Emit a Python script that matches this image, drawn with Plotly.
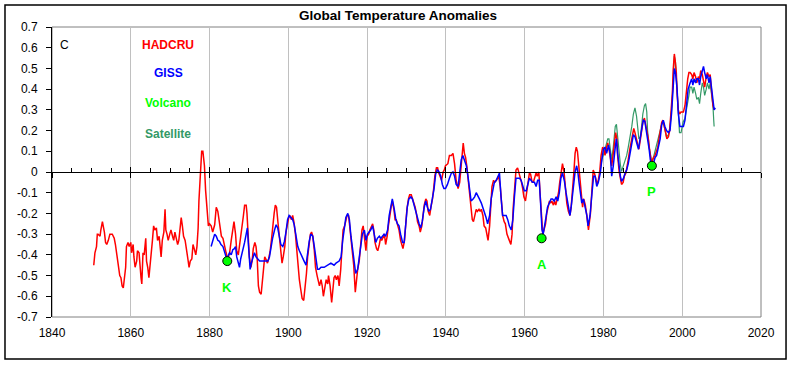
import plotly.graph_objects as go

# ---------------- data ----------------
hadcru = [
    (1850.6,-0.45),(1850.9,-0.39),(1851.3,-0.36),(1851.5,-0.30),(1851.7,-0.30),(1852.2,-0.31),(1852.4,-0.28),
    (1852.8,-0.24),(1853.0,-0.26),(1853.3,-0.29),(1853.6,-0.34),(1853.9,-0.35),(1854.3,-0.33),(1854.7,-0.30),
    (1855.3,-0.30),(1855.8,-0.32),(1856.1,-0.35),(1856.5,-0.41),(1856.8,-0.44),(1857.2,-0.50),(1857.5,-0.51),
    (1857.8,-0.55),(1858.1,-0.56),(1858.3,-0.53),(1858.7,-0.46),(1858.9,-0.36),(1859.3,-0.34),(1859.6,-0.36),
    (1860.0,-0.34),(1860.2,-0.39),(1860.6,-0.35),(1860.8,-0.41),(1861.1,-0.46),(1861.5,-0.43),(1861.7,-0.38),
    (1862.1,-0.39),(1862.4,-0.48),(1862.6,-0.51),(1862.8,-0.54),(1863.1,-0.39),(1863.4,-0.40),(1863.8,-0.32),
    (1864.0,-0.43),(1864.3,-0.46),(1864.6,-0.51),(1864.9,-0.46),(1865.1,-0.42),(1865.5,-0.33),(1865.8,-0.26),
    (1866.1,-0.28),(1866.5,-0.27),(1866.8,-0.33),(1867.2,-0.31),(1867.4,-0.35),(1867.7,-0.41),(1868.0,-0.33),
    (1868.4,-0.29),(1868.7,-0.18),(1868.9,-0.28),(1869.2,-0.30),(1869.5,-0.33),(1869.9,-0.30),(1870.2,-0.28),
    (1870.6,-0.31),(1870.9,-0.33),(1871.2,-0.29),(1871.6,-0.33),(1871.9,-0.35),(1872.2,-0.33),(1872.8,-0.22),
    (1873.1,-0.26),(1873.4,-0.31),(1873.8,-0.33),(1874.1,-0.38),(1874.5,-0.42),(1874.8,-0.46),(1875.1,-0.43),
    (1875.5,-0.42),(1875.8,-0.35),(1876.1,-0.37),(1876.5,-0.40),(1876.8,-0.36),(1877.1,-0.27),(1877.3,-0.14),
    (1877.7,-0.01),(1878.0,0.10),(1878.3,0.10),(1878.7,0.03),(1879.0,-0.09),(1879.4,-0.21),(1879.7,-0.26),
    (1880.0,-0.25),(1880.4,-0.26),(1880.8,-0.29),(1881.3,-0.255),(1881.7,-0.17),(1882.1,-0.19),(1882.4,-0.23),
    (1882.7,-0.27),(1883.0,-0.31),(1883.4,-0.32),(1883.8,-0.36),(1884.2,-0.39),(1884.6,-0.42),(1885.1,-0.39),
    (1885.5,-0.33),(1885.9,-0.26),(1886.2,-0.24),(1886.6,-0.30),(1886.9,-0.38),(1887.3,-0.40),(1887.6,-0.36),
    (1887.9,-0.31),(1888.3,-0.25),(1888.6,-0.21),(1888.9,-0.16),(1889.3,-0.16),(1889.5,-0.20),(1889.8,-0.31),
    (1890.1,-0.41),(1890.5,-0.46),(1890.8,-0.43),(1891.1,-0.37),(1891.5,-0.34),(1891.8,-0.36),(1892.1,-0.42),
    (1892.4,-0.55),(1892.7,-0.58),(1893.1,-0.59),(1893.4,-0.54),(1893.7,-0.47),(1894.0,-0.41),(1894.3,-0.42),
    (1894.7,-0.44),(1895.0,-0.42),(1895.4,-0.38),(1895.7,-0.33),(1896.0,-0.26),(1896.4,-0.20),(1896.7,-0.16),
    (1897.0,-0.17),(1897.4,-0.25),(1897.7,-0.32),(1898.0,-0.39),(1898.4,-0.44),(1898.7,-0.41),(1899.1,-0.36),
    (1899.4,-0.29),(1899.7,-0.25),(1900.1,-0.22),(1900.4,-0.21),(1900.8,-0.23),(1901.1,-0.21),(1901.4,-0.24),
    (1901.8,-0.30),(1902.1,-0.38),(1902.4,-0.46),(1902.8,-0.52),(1903.1,-0.56),(1903.5,-0.61),(1903.9,-0.62),
    (1904.2,-0.57),(1904.6,-0.49),(1904.9,-0.41),(1905.2,-0.36),(1905.6,-0.30),(1905.9,-0.29),(1906.2,-0.31),
    (1906.6,-0.38),(1906.9,-0.46),(1907.3,-0.50),(1907.6,-0.52),(1907.9,-0.55),(1908.3,-0.52),(1908.6,-0.55),
    (1908.9,-0.60),(1909.3,-0.56),(1909.6,-0.52),(1910.0,-0.54),(1910.2,-0.50),(1910.6,-0.55),(1911.0,-0.63),
    (1911.2,-0.59),(1911.6,-0.51),(1911.9,-0.50),(1912.2,-0.52),(1912.6,-0.50),(1912.9,-0.55),(1913.3,-0.47),
    (1913.6,-0.36),(1913.9,-0.28),(1914.3,-0.26),(1914.6,-0.23),(1914.9,-0.21),(1915.3,-0.21),(1915.6,-0.27),
    (1916.0,-0.35),(1916.3,-0.41),(1916.6,-0.45),(1917.0,-0.58),(1917.3,-0.52),(1917.6,-0.47),(1918.0,-0.43),
    (1918.3,-0.36),(1918.7,-0.28),(1919.0,-0.26),(1919.3,-0.33),(1919.7,-0.38),(1920.0,-0.31),(1920.4,-0.30),
    (1920.7,-0.28),(1921.0,-0.27),(1921.4,-0.25),(1921.7,-0.28),(1922.0,-0.34),(1922.4,-0.37),(1922.7,-0.38),
    (1923.1,-0.35),(1923.4,-0.32),(1923.7,-0.33),(1924.1,-0.31),(1924.4,-0.30),(1924.7,-0.35),(1925.1,-0.31),
    (1925.4,-0.26),(1925.8,-0.20),(1926.1,-0.17),(1926.4,-0.14),(1926.8,-0.18),(1927.1,-0.23),(1927.4,-0.23),
    (1927.8,-0.26),(1928.1,-0.28),(1928.5,-0.33),(1928.8,-0.35),(1929.1,-0.37),(1929.5,-0.33),(1929.8,-0.25),
    (1930.1,-0.18),(1930.5,-0.13),(1930.8,-0.11),(1931.2,-0.11),(1931.5,-0.13),(1931.8,-0.14),(1932.2,-0.17),
    (1932.5,-0.20),(1932.8,-0.24),(1933.2,-0.26),(1933.5,-0.29),(1933.9,-0.26),(1934.2,-0.21),(1934.5,-0.16),
    (1934.9,-0.13),(1935.2,-0.14),(1935.5,-0.19),(1935.9,-0.21),(1936.2,-0.17),(1936.6,-0.13),(1936.9,-0.08),
    (1937.2,-0.02),(1937.6,0.02),(1937.9,0.02),(1938.2,-0.005),(1938.6,-0.03),(1938.9,-0.04),(1939.3,0.00),
    (1939.6,0.01),(1939.9,0.03),(1940.5,0.04),(1940.9,0.08),(1941.4,0.08),(1941.8,0.09),(1942.2,0.04),
    (1942.6,-0.04),(1943.1,-0.08),(1943.5,-0.05),(1943.8,0.03),(1944.2,0.11),(1944.4,0.14),(1944.7,0.09),
    (1945.0,0.07),(1945.3,0.03),(1945.7,-0.04),(1946.0,-0.09),(1946.3,-0.17),(1946.7,-0.23),(1947.0,-0.24),
    (1947.4,-0.21),(1947.7,-0.18),(1948.0,-0.19),(1948.4,-0.18),(1948.7,-0.19),(1949.0,-0.18),(1949.4,-0.21),
    (1949.7,-0.26),(1950.1,-0.27),(1950.4,-0.30),(1950.7,-0.33),(1951.1,-0.26),(1951.4,-0.17),(1951.7,-0.07),
    (1952.1,-0.04),(1952.4,-0.05),(1952.8,-0.04),(1953.1,-0.03),(1953.4,-0.02),(1953.8,-0.07),(1954.1,-0.15),
    (1954.4,-0.21),(1954.8,-0.24),(1955.1,-0.25),(1955.5,-0.30),(1955.8,-0.32),(1956.1,-0.33),(1956.5,-0.35),
    (1956.8,-0.30),(1957.1,-0.17),(1957.5,-0.04),(1957.8,0.01),(1958.2,0.02),(1958.5,0.00),(1958.8,-0.02),
    (1959.2,-0.05),(1959.5,-0.08),(1959.8,-0.12),(1960.2,-0.14),(1960.5,-0.09),(1960.9,-0.03),(1961.2,-0.005),
    (1961.5,-0.01),(1961.9,-0.05),(1962.2,-0.05),(1962.6,-0.02),(1962.9,-0.005),(1963.2,-0.02),(1963.6,0.00),
    (1963.9,-0.10),(1964.2,-0.21),(1964.6,-0.30),(1964.9,-0.28),(1965.3,-0.25),(1965.6,-0.20),(1965.9,-0.17),
    (1966.3,-0.14),(1966.6,-0.15),(1966.9,-0.14),(1967.3,-0.16),(1967.6,-0.14),(1967.9,-0.16),(1968.3,-0.13),
    (1968.6,-0.10),(1968.9,-0.05),(1969.3,-0.005),(1969.6,0.04),(1970.0,0.00),(1970.3,-0.07),(1970.7,-0.15),
    (1971.1,-0.19),(1971.5,-0.21),(1971.8,-0.17),(1972.2,-0.09),(1972.5,0.00),(1972.8,0.09),(1973.1,0.12),
    (1973.4,0.10),(1973.7,0.03),(1974.0,-0.05),(1974.4,-0.13),(1974.7,-0.17),(1975.0,-0.13),(1975.4,-0.16),
    (1975.7,-0.20),(1976.0,-0.25),(1976.2,-0.28),(1976.7,-0.20),(1977.1,-0.09),(1977.4,0.01),(1977.7,-0.005),
    (1978.1,-0.04),(1978.4,-0.06),(1978.7,-0.04),(1979.1,0.01),(1979.4,0.08),(1979.8,0.12),(1980.1,0.11),
    (1980.4,0.08),(1980.8,0.12),(1981.1,0.14),(1981.4,0.11),(1981.8,0.06),(1982.1,0.03),(1982.5,0.09),
    (1982.8,0.16),(1983.1,0.19),(1983.4,0.16),(1983.6,0.08),(1984.0,0.00),(1984.3,-0.04),(1984.6,-0.06),
    (1985.0,-0.05),(1985.3,-0.02),(1985.7,-0.005),(1986.0,0.02),(1986.3,0.06),(1986.7,0.11),(1987.0,0.14),
    (1987.3,0.18),(1987.7,0.21),(1988.0,0.19),(1988.4,0.16),(1988.7,0.13),(1989.0,0.11),(1989.4,0.16),
    (1989.7,0.20),(1990.0,0.24),(1990.4,0.26),(1990.7,0.23),(1991.1,0.19),(1991.4,0.16),(1991.7,0.11),
    (1992.1,0.06),(1992.4,0.05),(1992.7,0.07),(1993.1,0.08),(1993.4,0.10),(1993.8,0.12),(1994.1,0.16),
    (1994.4,0.19),(1994.8,0.24),(1995.1,0.25),(1995.4,0.23),(1995.8,0.19),(1996.1,0.16),(1996.5,0.17),
    (1996.8,0.20),(1997.1,0.27),(1997.5,0.38),(1997.7,0.49),(1998.0,0.57),(1998.2,0.54),(1998.5,0.48),
    (1998.7,0.38),(1999.0,0.30),(1999.3,0.28),(1999.7,0.29),(2000.0,0.29),(2000.3,0.29),(2000.7,0.32),
    (2001.0,0.38),(2001.4,0.45),(2001.7,0.48),(2002.0,0.48),(2002.4,0.47),(2002.7,0.45),(2003.0,0.48),
    (2003.4,0.46),(2003.7,0.43),(2004.1,0.46),(2004.4,0.45),(2004.7,0.49),(2005.1,0.47),(2005.4,0.44),
    (2005.7,0.41),(2006.1,0.46),(2006.4,0.48),(2006.8,0.46),(2007.1,0.47),(2007.4,0.40),(2007.8,0.32),
    (2008.1,0.30),
]

giss = [
    (1880.4,-0.36),(1880.8,-0.33),(1881.3,-0.30),(1881.7,-0.31),(1882.1,-0.33),(1882.5,-0.335),(1882.9,-0.35),
    (1883.4,-0.36),(1883.8,-0.38),(1884.2,-0.41),(1884.6,-0.41),(1885.1,-0.39),(1885.5,-0.40),(1885.9,-0.375),
    (1886.3,-0.37),(1886.6,-0.36),(1886.9,-0.41),(1887.3,-0.44),(1887.6,-0.46),(1887.9,-0.42),(1888.3,-0.39),
    (1888.6,-0.37),(1888.9,-0.34),(1889.3,-0.30),(1889.6,-0.27),(1889.9,-0.36),(1890.3,-0.47),(1890.6,-0.44),
    (1891.0,-0.41),(1891.4,-0.39),(1891.8,-0.41),(1892.2,-0.42),(1892.7,-0.43),(1893.5,-0.43),(1894.3,-0.43),
    (1894.8,-0.43),(1895.2,-0.41),(1895.6,-0.36),(1896.0,-0.32),(1896.5,-0.28),(1896.9,-0.255),(1897.3,-0.27),
    (1897.7,-0.31),(1898.1,-0.35),(1898.6,-0.36),(1899.0,-0.335),(1899.4,-0.29),(1899.8,-0.23),(1900.2,-0.21),
    (1900.7,-0.22),(1901.1,-0.23),(1901.5,-0.255),(1901.9,-0.31),(1902.4,-0.36),(1902.8,-0.38),(1903.2,-0.40),
    (1903.6,-0.42),(1904.0,-0.43),(1904.5,-0.45),(1904.9,-0.39),(1905.3,-0.335),(1905.7,-0.30),(1906.2,-0.31),
    (1906.6,-0.36),(1907.0,-0.42),(1907.4,-0.47),(1907.8,-0.47),(1908.3,-0.46),(1909.1,-0.46),(1910.0,-0.45),
    (1910.8,-0.44),(1911.6,-0.45),(1912.1,-0.44),(1912.9,-0.43),(1913.4,-0.41),(1913.8,-0.33),(1914.2,-0.28),
    (1914.6,-0.22),(1915.1,-0.20),(1915.5,-0.23),(1915.9,-0.31),(1916.3,-0.38),(1916.7,-0.44),(1917.1,-0.49),
    (1917.6,-0.47),(1918.0,-0.42),(1918.4,-0.36),(1918.8,-0.30),(1919.3,-0.28),(1919.7,-0.33),(1920.1,-0.30),
    (1920.5,-0.29),(1920.9,-0.28),(1921.4,-0.26),(1921.8,-0.30),(1922.2,-0.34),(1922.6,-0.32),(1923.1,-0.31),
    (1923.5,-0.32),(1923.9,-0.31),(1924.3,-0.30),(1924.7,-0.31),(1925.2,-0.28),(1925.6,-0.21),(1926.0,-0.16),
    (1926.4,-0.13),(1926.9,-0.18),(1927.3,-0.23),(1927.7,-0.25),(1928.1,-0.26),(1928.5,-0.30),(1929.0,-0.34),
    (1929.4,-0.34),(1929.8,-0.25),(1930.2,-0.17),(1930.6,-0.13),(1931.1,-0.12),(1931.5,-0.13),(1931.9,-0.16),
    (1932.3,-0.19),(1932.8,-0.22),(1933.2,-0.25),(1933.6,-0.27),(1934.0,-0.24),(1934.5,-0.17),(1934.9,-0.14),
    (1935.3,-0.17),(1935.7,-0.19),(1936.1,-0.18),(1936.6,-0.13),(1937.0,-0.08),(1937.4,-0.01),(1937.8,0.01),
    (1938.2,0.003),(1938.7,-0.02),(1939.1,-0.06),(1939.5,-0.08),(1939.9,-0.08),(1940.4,-0.06),(1940.9,-0.03),
    (1941.4,-0.005),(1941.8,0.00),(1942.2,-0.02),(1942.6,-0.06),(1943.1,-0.07),(1943.5,-0.005),(1943.9,0.06),
    (1944.3,0.08),(1944.7,0.06),(1945.2,0.03),(1945.6,-0.02),(1946.0,-0.09),(1946.4,-0.14),(1946.9,-0.13),
    (1947.3,-0.12),(1947.7,-0.10),(1948.1,-0.12),(1948.5,-0.13),(1949.0,-0.15),(1949.4,-0.17),(1949.8,-0.20),
    (1950.2,-0.22),(1950.6,-0.25),(1951.1,-0.21),(1951.5,-0.13),(1951.9,-0.08),(1952.3,-0.05),(1952.8,-0.04),
    (1953.2,-0.02),(1953.6,-0.005),(1954.0,-0.12),(1954.4,-0.21),(1954.9,-0.21),(1955.3,-0.21),(1955.7,-0.23),
    (1956.1,-0.26),(1956.6,-0.28),(1957.0,-0.23),(1957.4,-0.12),(1957.8,-0.03),(1958.2,-0.03),(1958.7,-0.03),
    (1959.1,-0.04),(1959.5,-0.06),(1959.9,-0.09),(1960.4,-0.09),(1960.8,-0.06),(1961.2,-0.03),(1961.6,-0.04),
    (1962.0,-0.05),(1962.5,-0.05),(1962.9,-0.07),(1963.3,-0.04),(1963.7,-0.04),(1964.1,-0.17),(1964.4,-0.28),
    (1964.7,-0.30),(1965.1,-0.26),(1965.4,-0.22),(1965.8,-0.17),(1966.3,-0.15),(1966.7,-0.13),(1967.1,-0.13),
    (1967.5,-0.14),(1968.0,-0.12),(1968.4,-0.14),(1968.8,-0.10),(1969.2,-0.03),(1969.6,-0.005),(1970.1,-0.045),
    (1970.5,-0.10),(1970.9,-0.14),(1971.5,-0.21),(1971.8,-0.17),(1972.2,-0.09),(1972.5,-0.04),(1972.8,0.00),
    (1973.2,0.03),(1973.5,0.00),(1973.8,-0.05),(1974.2,-0.12),(1974.5,-0.15),(1974.9,-0.13),(1975.4,-0.17),
    (1975.8,-0.21),(1976.1,-0.26),(1976.6,-0.21),(1977.1,-0.10),(1977.5,-0.02),(1977.9,-0.02),(1978.3,-0.07),
    (1978.7,-0.05),(1979.2,-0.005),(1979.6,0.06),(1980.0,0.11),(1980.4,0.12),(1980.8,0.09),(1981.3,0.13),
    (1981.7,0.09),(1982.1,-0.02),(1982.5,0.03),(1983.0,0.12),(1983.3,0.16),(1983.6,0.09),(1984.0,0.01),
    (1984.3,-0.02),(1984.6,-0.045),(1985.1,-0.03),(1985.5,-0.005),(1985.9,0.01),(1986.3,0.04),(1986.8,0.09),
    (1987.2,0.14),(1987.6,0.18),(1988.0,0.17),(1988.4,0.14),(1988.9,0.11),(1989.3,0.16),(1989.7,0.21),
    (1990.1,0.25),(1990.5,0.245),(1990.9,0.20),(1991.2,0.16),(1991.6,0.11),(1991.9,0.06),(1992.2,0.035),
    (1992.7,0.04),(1993.1,0.07),(1993.5,0.08),(1993.9,0.12),(1994.4,0.16),(1994.8,0.23),(1995.2,0.25),
    (1995.6,0.22),(1996.0,0.20),(1996.5,0.19),(1996.9,0.20),(1997.3,0.285),(1997.7,0.40),(1998.0,0.50),
    (1998.3,0.48),(1998.7,0.40),(1999.0,0.285),(1999.4,0.22),(1999.8,0.22),(2000.3,0.22),(2000.7,0.25),
    (2001.1,0.32),(2001.5,0.40),(2002.0,0.43),(2002.4,0.45),(2002.7,0.42),(2003.0,0.45),(2003.4,0.43),
    (2003.7,0.45),(2004.1,0.45),(2004.4,0.42),(2004.7,0.46),(2005.1,0.49),(2005.4,0.51),(2005.7,0.48),
    (2006.1,0.45),(2006.4,0.47),(2006.8,0.43),(2007.1,0.46),(2007.4,0.41),(2007.8,0.37),(2008.1,0.30),
    (2008.4,0.31),
]

satellite = [
    (1979.1,0.00),(1979.6,0.06),(1980.1,0.09),(1980.6,0.12),(1981.1,0.16),(1981.4,0.16),(1981.8,0.11),
    (1982.1,0.06),(1982.5,0.12),(1983.0,0.22),(1983.3,0.23),(1983.6,0.16),(1984.0,0.08),(1984.3,0.035),
    (1984.6,0.003),(1985.1,0.03),(1985.5,0.05),(1985.9,0.08),(1986.3,0.12),(1986.8,0.17),(1987.2,0.22),
    (1987.6,0.28),(1988.0,0.31),(1988.4,0.27),(1988.7,0.20),(1989.0,0.16),(1989.4,0.17),(1989.7,0.23),
    (1990.0,0.28),(1990.4,0.32),(1990.7,0.33),(1991.0,0.29),(1991.2,0.20),(1991.6,0.12),(1991.9,0.08),
    (1992.2,0.05),(1992.7,0.07),(1993.1,0.10),(1993.5,0.12),(1993.9,0.16),(1994.4,0.20),(1994.8,0.23),
    (1995.2,0.24),(1995.6,0.20),(1996.0,0.17),(1996.5,0.18),(1996.9,0.22),(1997.3,0.30),(1997.7,0.45),
    (1998.0,0.56),(1998.3,0.53),(1998.7,0.41),(1999.0,0.27),(1999.3,0.19),(1999.7,0.19),(2000.2,0.24),
    (2000.7,0.26),(2001.2,0.31),(2001.7,0.37),(2002.0,0.41),(2002.4,0.41),(2002.7,0.38),(2003.0,0.41),
    (2003.4,0.38),(2003.7,0.35),(2004.1,0.36),(2004.4,0.33),(2004.7,0.38),(2005.1,0.43),(2005.4,0.41),
    (2005.7,0.37),(2006.1,0.40),(2006.4,0.43),(2006.8,0.40),(2007.1,0.43),(2007.4,0.38),(2007.8,0.32),
    (2008.0,0.25),(2008.1,0.22),
]

volcano_years = [1884.5, 1964.3, 1992.3]
volcano_values = [-0.43, -0.32, 0.03]
volcano_labels = ["K", "A", "P"]

y_tick_values = [0.7, 0.6, 0.5, 0.4, 0.3, 0.2, 0.1, 0, -0.1, -0.2, -0.3, -0.4, -0.5, -0.6, -0.7]
y_tick_labels = ["0.7", "0.6", "0.5", "0.4", "0.3", "0.2", "0.1", "0",
                 "-0.1", "-0.2", "-0.3", "-0.4", "-0.5", "-0.6", "-0.7"]
x_tick_values = [1840, 1860, 1880, 1900, 1920, 1940, 1960, 1980, 2000, 2020]

legend_names = ["HADCRU", "GISS", "Volcano", "Satellite"]
legend_colors = ["#ff0000", "#0000ff", "#00ff00", "#339966"]

title_text = "Global Temperature Anomalies"

# ---------------- figure ----------------
FONT = "Liberation Sans, Arial, sans-serif"

def unzip(pairs):
    return [p[0] for p in pairs], [p[1] for p in pairs]

hx, hy = unzip(hadcru)
gx, gy = unzip(giss)
sx, sy = unzip(satellite)

fig = go.Figure()
fig.add_trace(go.Scatter(x=sx, y=sy, mode="lines", line=dict(color="#339966", width=1.2),
                         name="Satellite", showlegend=False, hoverinfo="skip"))
fig.add_trace(go.Scatter(x=hx, y=hy, mode="lines", line=dict(color="#ff0000", width=1.5),
                         name="HADCRU", showlegend=False, hoverinfo="skip"))
fig.add_trace(go.Scatter(x=gx, y=gy, mode="lines", line=dict(color="#0000ff", width=1.5),
                         name="GISS", showlegend=False, hoverinfo="skip"))
fig.add_trace(go.Scatter(x=volcano_years, y=volcano_values, mode="markers",
                         marker=dict(color="#00ff00", size=9, line=dict(color="black", width=1)),
                         name="Volcano", showlegend=False, hoverinfo="skip"))
# dummy traces so the overlay axes (x axis drawn at y=0) are created
fig.add_trace(go.Scatter(x=[], y=[], xaxis="x2", showlegend=False))
fig.add_trace(go.Scatter(x=[], y=[], xaxis="x3", showlegend=False))

for xv, yv, lab in zip(volcano_years, volcano_values, volcano_labels):
    fig.add_annotation(x=xv, y=yv, text="<b>%s</b>" % lab, showarrow=False, yshift=-26,
                       xanchor="center", yanchor="middle",
                       font=dict(family=FONT, size=13, color="#00ff00"))

legend_y = [0.938, 0.841, 0.738, 0.631]
for name, col, yy in zip(legend_names, legend_colors, legend_y):
    fig.add_annotation(x=0.164, y=yy, xref="paper", yref="paper", text="<b>%s</b>" % name,
                       xanchor="center", yanchor="middle",
                       showarrow=False, font=dict(family=FONT, size=12, color=col))
fig.add_annotation(x=0.0183, y=0.938, xref="paper", yref="paper", text="C", showarrow=False,
                   xanchor="center", yanchor="middle",
                   font=dict(family=FONT, size=12, color="black"))

# plot-area border (gray) and outer chart frame (black)
fig.add_shape(type="rect", xref="paper", yref="paper", x0=0, x1=1, y0=0, y1=1,
              line=dict(color="#808080", width=1), layer="below")
fig.add_shape(type="rect", xref="paper", yref="paper", x0=-0.0663, x1=1.0353, y0=-0.1448, y1=1.0759,
              line=dict(color="black", width=1.5))

xr = [1840, 2020]
fig.update_layout(
    width=793, height=365,
    margin=dict(l=52, r=32, t=27, b=48),
    paper_bgcolor="white", plot_bgcolor="white",
    font=dict(family=FONT, size=12, color="black"),
    title=dict(text="<b>%s</b>" % title_text, x=0.502, xanchor="center", y=0.959, yanchor="middle",
               yref="container", font=dict(family=FONT, size=13.5, color="black")),
    showlegend=False,
    xaxis=dict(range=xr, tickvals=x_tick_values, showgrid=True, gridcolor="#c0c0c0", gridwidth=1,
               showline=False, zeroline=False, ticks="", ticklabelstandoff=7,
               tickfont=dict(family=FONT, size=12, color="black")),
    xaxis2=dict(range=xr, overlaying="x", anchor="free", position=0.5, side="bottom",
                showline=True, linecolor="black", linewidth=1, showgrid=False, zeroline=False,
                tickvals=x_tick_values, ticks="inside", ticklen=5, tickcolor="black",
                showticklabels=False,
                minor=dict(ticks="inside", dtick=5, tick0=1840, ticklen=4, tickcolor="black",
                           showgrid=False)),
    xaxis3=dict(range=xr, overlaying="x", anchor="free", position=0.5, side="bottom",
                showline=False, showgrid=False, zeroline=False, tickvals=x_tick_values,
                ticks="outside", ticklen=5, tickcolor="black", showticklabels=False),
    yaxis=dict(range=[-0.7, 0.7], tickvals=y_tick_values, ticktext=y_tick_labels,
               showgrid=False, zeroline=False, showline=True, linecolor="black", linewidth=1,
               ticks="outside", ticklen=5, tickcolor="black", ticklabelstandoff=6,
               tickfont=dict(family=FONT, size=12, color="black")),
)

fig.write_html("out.html", config={"displayModeBar": False},
               post_script="document.body.style.margin='0';document.body.style.padding='0';")
